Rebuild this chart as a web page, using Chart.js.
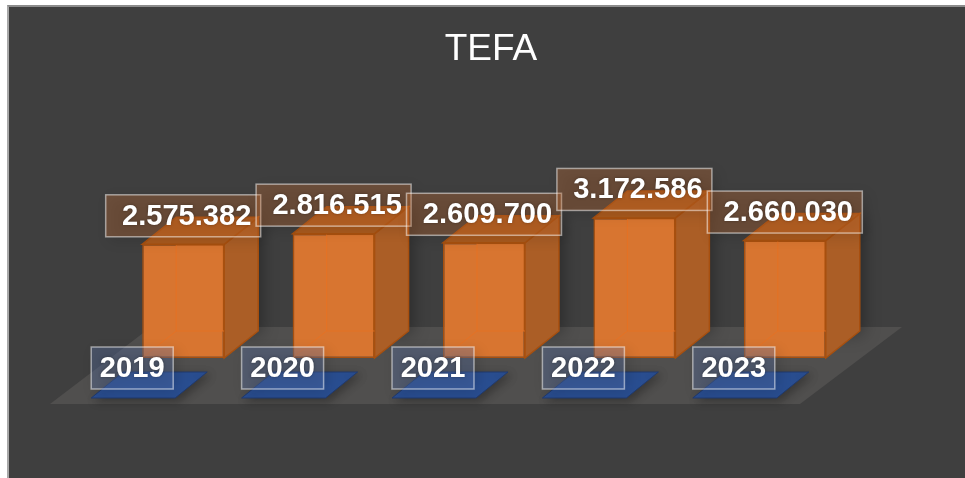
<!doctype html>
<html lang="en">

<head>
    <meta charset="utf-8" />
    <title>TEFA</title>
    <script src="https://cdn.jsdelivr.net/npm/chart.js"></script>
    <style>
        html, body { margin: 0; padding: 0; background: #fff; overflow: hidden; }
        #panel {
            position: absolute; left: 7px; top: 5px; right: 0; bottom: 0;
            background: #3f3f3f; border-left: 2px solid #a8a8a8; border-top: 2px solid #8c8c8c;
        }
        #chartTefa { position: absolute; left: 0; top: 0; }
    </style>
</head>

<body>
    <div id="panel"></div>
    <canvas id="chartTefa" width="965" height="478"></canvas>
    <script>
        const TITLE = 'TEFA';
        const YEARS = ['2019', '2020', '2021', '2022', '2023'];
        const VALUES = [2575382, 2816515, 2609700, 3172586, 2660030];

        const FONT = '"Liberation Sans", Arial, sans-serif';
        const DEPTH_X = 34;
        const DEPTH_Y = 27;

        function formatValue(v) {
            return String(v).replace(/\B(?=(\d{3})+$)/g, '.');
        }

        function poly(ctx, pts, fill, stroke, width) {
            ctx.beginPath();
            pts.forEach((p, i) => { i ? ctx.lineTo(p[0], p[1]) : ctx.moveTo(p[0], p[1]); });
            ctx.closePath();
            if (fill) { ctx.fillStyle = fill; ctx.fill(); }
            if (stroke) { ctx.strokeStyle = stroke; ctx.lineWidth = width || 1; ctx.stroke(); }
        }

        function labelBox(ctx, cx, cy, w, h, fill, text, textDx) {
            ctx.save();
            ctx.shadowColor = 'rgba(0,0,0,0.45)';
            ctx.shadowBlur = 14;
            ctx.shadowOffsetX = 4;
            ctx.shadowOffsetY = 4;
            ctx.fillStyle = fill;
            ctx.fillRect(cx - w / 2, cy - h / 2, w, h);
            ctx.restore();
            ctx.strokeStyle = 'rgba(255,255,255,0.5)';
            ctx.lineWidth = 1.5;
            ctx.strokeRect(cx - w / 2, cy - h / 2, w, h);
            ctx.save();
            ctx.shadowColor = 'rgba(0,0,0,0.35)';
            ctx.shadowBlur = 3;
            ctx.fillStyle = '#fff';
            ctx.font = 'bold 29.1px ' + FONT;
            ctx.textAlign = 'center';
            ctx.textBaseline = 'middle';
            ctx.fillText(text, cx + textDx, cy + 1);
            ctx.restore();
        }

        // floor, category tiles and the back/side/top faces go under the bars
        const floorAndFaces = {
            id: 'floorAndFaces',
            afterLayout(chart) {
                // title is centred on the panel, not on the padded plot
                chart.titleBlock.left += 7;
                chart.titleBlock.right += 7;
            },
            beforeDatasetsDraw(chart) {
                const ctx = chart.ctx;
                const area = chart.chartArea;
                const base = area.bottom;
                ctx.save();
                poly(ctx, [[area.left - 58, base + 46], [area.right - 60, base + 46],
                    [area.right + 42, base - 31], [area.left + 43, base - 31]], '#504f4e');
                chart.getDatasetMeta(0).data.forEach((bar) => {
                    const x = bar.x;
                    ctx.save();
                    ctx.shadowColor = 'rgba(0,0,0,0.3)';
                    ctx.shadowBlur = 10;
                    ctx.shadowOffsetX = 3;
                    ctx.shadowOffsetY = 3;
                    poly(ctx, [[x - 92, base + 40], [x - 8, base + 40], [x + 24, base + 14], [x - 60, base + 14]], '#2a4f93', '#203a6e', 1);
                    ctx.restore();
                });
                chart.getDatasetMeta(0).data.forEach((bar) => {
                    const l = bar.x - bar.width / 2, r = bar.x + bar.width / 2, t = bar.y, b = bar.base;
                    const dx = DEPTH_X, dy = DEPTH_Y;
                    ctx.save();
                    ctx.shadowColor = 'rgba(0,0,0,0.35)';
                    ctx.shadowBlur = 16;
                    ctx.shadowOffsetX = 3;
                    ctx.shadowOffsetY = 3;
                    poly(ctx, [[l + dx, t - dy], [r + dx, t - dy], [r + dx, b - dy], [l + dx, b - dy]], '#d87530');
                    ctx.restore();
                    poly(ctx, [[r, t], [r + dx, t - dy], [r + dx, b - dy], [r, b]], '#ab5e26', '#a8500f', 1.5);
                    poly(ctx, [[l, t], [r, t], [r + dx, t - dy], [l + dx, t - dy]], '#a95a1e', '#a8500f', 1.5);
                });
                ctx.restore();
            },
            afterDatasetsDraw(chart) {
                const ctx = chart.ctx;
                const bars = chart.getDatasetMeta(0).data;
                // hidden edges of the box show faintly through the front face
                bars.forEach((bar) => {
                    const l = bar.x - bar.width / 2, r = bar.x + bar.width / 2, t = bar.y, b = bar.base;
                    const dx = DEPTH_X, dy = DEPTH_Y;
                    ctx.lineWidth = 1;
                    ctx.strokeStyle = 'rgba(232,112,32,0.8)';
                    ctx.beginPath();
                    ctx.moveTo(l + dx, t + 1);
                    ctx.lineTo(l + dx, b - dy);
                    ctx.lineTo(r, b - dy);
                    ctx.moveTo(l + dx, b - dy);
                    ctx.lineTo(l + 1, b - 1);
                    ctx.stroke();
                });
                bars.forEach((bar, i) => {
                    labelBox(ctx, bar.x - 51, bar.base + 10, 82, 42, 'rgba(95,125,190,0.3)', YEARS[i], 0);
                });
                bars.forEach((bar, i) => {
                    labelBox(ctx, bar.x, bar.y - 28.5, 155, 42, 'rgba(237,125,49,0.26)', formatValue(VALUES[i]), 3.5);
                });
            }
        };

        const ctx = document.getElementById('chartTefa');
        const myChart = new Chart(ctx, {
            type: 'bar',
            data: {
                labels: YEARS,
                datasets: [{
                    data: VALUES,
                    backgroundColor: '#d87530',
                    borderColor: '#a8500f',
                    borderWidth: 1.5,
                    borderSkipped: false,
                    barPercentage: 0.545,
                    categoryPercentage: 1
                }]
            },
            options: {
                responsive: false,
                animation: false,
                layout: { padding: { left: 108, right: 105, top: 0, bottom: 120 } },
                plugins: {
                    legend: { display: false },
                    tooltip: { enabled: false },
                    title: {
                        display: true,
                        text: TITLE,
                        color: '#ffffff',
                        font: { family: FONT, size: 37, weight: 'normal' },
                        padding: { top: 27.5, bottom: 109.5 }
                    }
                },
                scales: {
                    x: { display: false },
                    y: { display: false, min: 0, max: 4000000 }
                }
            },
            plugins: [floorAndFaces]
        });
    </script>
</body>

</html>
